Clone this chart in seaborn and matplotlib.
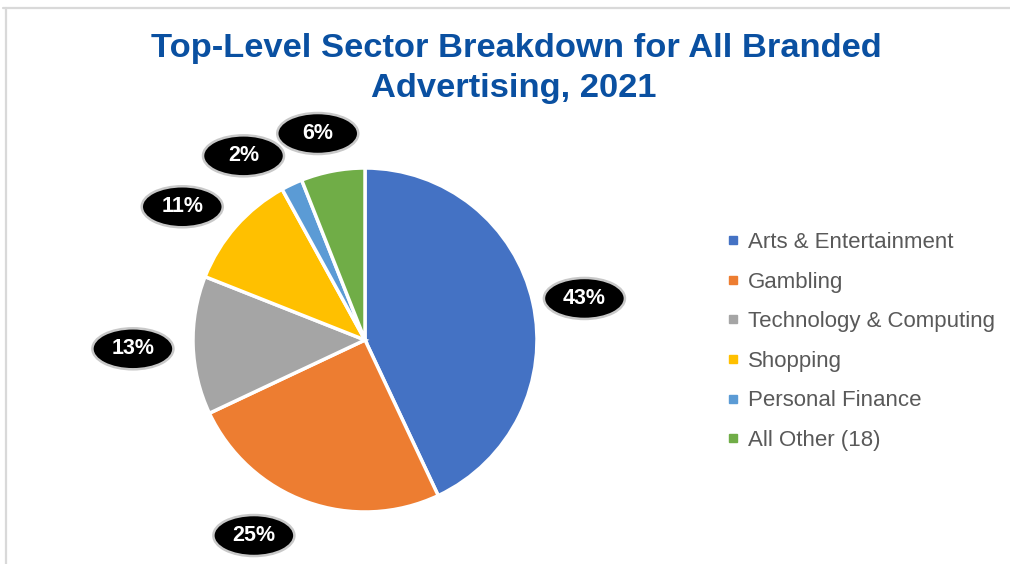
import matplotlib
matplotlib.use("Agg")
import matplotlib.pyplot as plt
from matplotlib.lines import Line2D
from matplotlib.patches import Ellipse
import numpy as np
import seaborn as sns

# Sector shares (%)
sectors = ["Arts & Entertainment", "Gambling", "Technology & Computing",
           "Shopping", "Personal Finance", "All Other (18)"]
shares = [43, 25, 13, 11, 2, 6]
share_labels = ["43%", "25%", "13%", "11%", "2%", "6%"]
colors = ["#4472C4", "#ED7D31", "#A5A5A5", "#FFC000", "#5B9BD5", "#70AD47"]

# Callout placement: distance from centre (in pie radii) and angle nudge (deg)
label_dist = [1.30, 1.30, 1.35, 1.32, 1.29, 1.24]
label_nudge = [-1.5, -10.0, 0.0, 5.0, 8.0, 2.0]

sns.set_theme(style="white")
plt.rcParams["font.family"] = ["Liberation Sans", "DejaVu Sans"]

W, H, DPI = 1010, 564, 100
fig = plt.figure(figsize=(W / DPI, H / DPI), dpi=DPI)
fig.patch.set_facecolor("white")

# Pie axes sized in pixels so one data unit equals the pie radius
R = 172
cx, cy = 365, H - 340
ax = fig.add_axes([(cx - R) / W, (cy - R) / H, 2 * R / W, 2 * R / H])

wedges, _ = ax.pie(shares, colors=colors, startangle=90, counterclock=False,
                   radius=1.0, center=(0, 0),
                   wedgeprops=dict(edgecolor="white", linewidth=2.5))
ax.set_xlim(-1, 1)
ax.set_ylim(-1, 1)
ax.set_aspect("equal")
ax.axis("off")

for w, lab, d, nud in zip(wedges, share_labels, label_dist, label_nudge):
    mid = np.deg2rad((w.theta1 + w.theta2) / 2 + nud)
    x, y = d * np.cos(mid), d * np.sin(mid) - 1.5 / R
    ax.add_patch(Ellipse((x, y), 81 / R, 41 / R, facecolor="black",
                         edgecolor="#c8c8c8", linewidth=1.8, clip_on=False,
                         zorder=5))
    ax.text(x, y, lab, ha="center", va="center", color="white",
            fontsize=15.5, fontweight="bold", zorder=6, clip_on=False)

# Title
title_color = "#0A50A1"
fig.text(0.511, 1 - 49 / H, "Top-Level Sector Breakdown for All Branded",
         ha="center", va="center", fontsize=24.8, fontweight="bold",
         color=title_color)
fig.text(0.509, 1 - 89 / H, "Advertising, 2021", ha="center", va="center",
         fontsize=24.8, fontweight="bold", color=title_color)

# Legend
handles = [Line2D([0], [0], marker="s", linestyle="none", markersize=6,
                  markerfacecolor=c, markeredgecolor=c) for c in colors]
leg = fig.legend(handles, sectors, loc="upper left",
                 bbox_to_anchor=(715 / W, 1 - 221 / H), frameon=False,
                 fontsize=16, labelcolor="#595959", handlelength=0.6,
                 handletextpad=0.4, labelspacing=0.835, borderpad=0)

# Chart-area frame lines (top and left)
fig.add_artist(Line2D([3 / W, 1], [1 - 8 / H, 1 - 8 / H], color="#d9d9d9",
                      linewidth=1.6, transform=fig.transFigure))
fig.add_artist(Line2D([6 / W, 6 / W], [0, 1 - 8 / H], color="#d9d9d9",
                      linewidth=1.6, transform=fig.transFigure))

fig.savefig("out.png", dpi=DPI, facecolor="white")
